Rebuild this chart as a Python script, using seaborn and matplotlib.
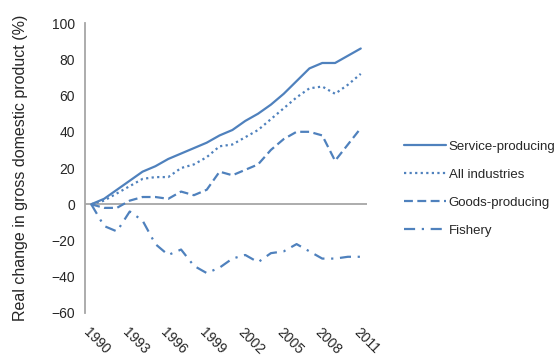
import matplotlib
matplotlib.use("Agg")
import matplotlib.pyplot as plt
import pandas as pd
import seaborn as sns

# values (% change since 1990)
years = list(range(1990, 2012))
service = [0, 3, 8, 13, 18, 21, 25, 28, 31, 34, 38, 41, 46, 50, 55, 61, 68, 75, 78, 78, 82, 86]
all_industries = [0, 2, 6, 10, 14, 15, 15, 20, 22, 26, 32, 33, 37, 41, 47, 53, 59, 64, 65, 61, 66, 72]
goods = [0, -2, -2, 2, 4, 4, 3, 7, 5, 8, 18, 16, 19, 22, 30, 36, 40, 40, 38, 24, 33, 42]
fishery = [0, -12, -15, -4, -9, -22, -28, -25, -34, -38, -35, -30, -28, -32, -27, -26, -22, -26, -30, -30, -29, -29]

series_names = ["Service-producing", "All industries", "Goods-producing", "Fishery"]
y_ticks = [-60, -40, -20, 0, 20, 40, 60, 80, 100]
x_ticks = [1990, 1993, 1996, 1999, 2002, 2005, 2008, 2011]

df = pd.DataFrame({
    "year": years * 4,
    "value": service + all_industries + goods + fishery,
    "series": sum([[name] * len(years) for name in series_names], []),
})

sns.set_style("white")
plt.rcParams["font.family"] = ["Liberation Sans", "DejaVu Sans"]

line_color = "#4f81bd"
grey = "#a6a6a6"

fig = plt.figure(figsize=(5.58, 3.56), dpi=100)
ax = fig.add_axes([0.152, 0.121, 0.506, 0.814])

dash_styles = {
    "Service-producing": "",
    "All industries": (1, 1.5),
    "Goods-producing": (4, 2),
    "Fishery": (5, 3, 1, 3),
}

sns.lineplot(data=df, x="year", y="value", style="series", style_order=series_names,
             dashes=dash_styles, color=line_color, linewidth=1.6, ax=ax)

# zero line acts as the category axis
ax.axhline(0, color=grey, linewidth=1.3, zorder=1)

ax.set_xlim(1989.5, 2011.5)
ax.set_ylim(-60, 100)
ax.set_yticks(y_ticks)
ax.set_xticks(x_ticks)
ax.set_xticklabels([str(x) for x in x_ticks], rotation=-45, ha="left", va="top",
                   rotation_mode="anchor")
ax.tick_params(axis="x", length=0, pad=9, labelsize=10)
ax.tick_params(axis="y", length=4, width=1, color=grey, direction="out", labelsize=10, pad=3)

for side in ["top", "right", "bottom"]:
    ax.spines[side].set_visible(False)
ax.spines["left"].set_color(grey)
ax.spines["left"].set_linewidth(1.3)

ax.set_xlabel("")
ax.set_ylabel("Real change in gross domestic product (%)", fontsize=11.5, labelpad=17)

ax.legend(frameon=False, loc="upper left", bbox_to_anchor=(0.724, 0.605),
          bbox_transform=fig.transFigure, fontsize=9.5, handlelength=3.2,
          handletextpad=0.2, labelspacing=1.2, borderpad=0, borderaxespad=0)

fig.savefig("out.png", dpi=100)
